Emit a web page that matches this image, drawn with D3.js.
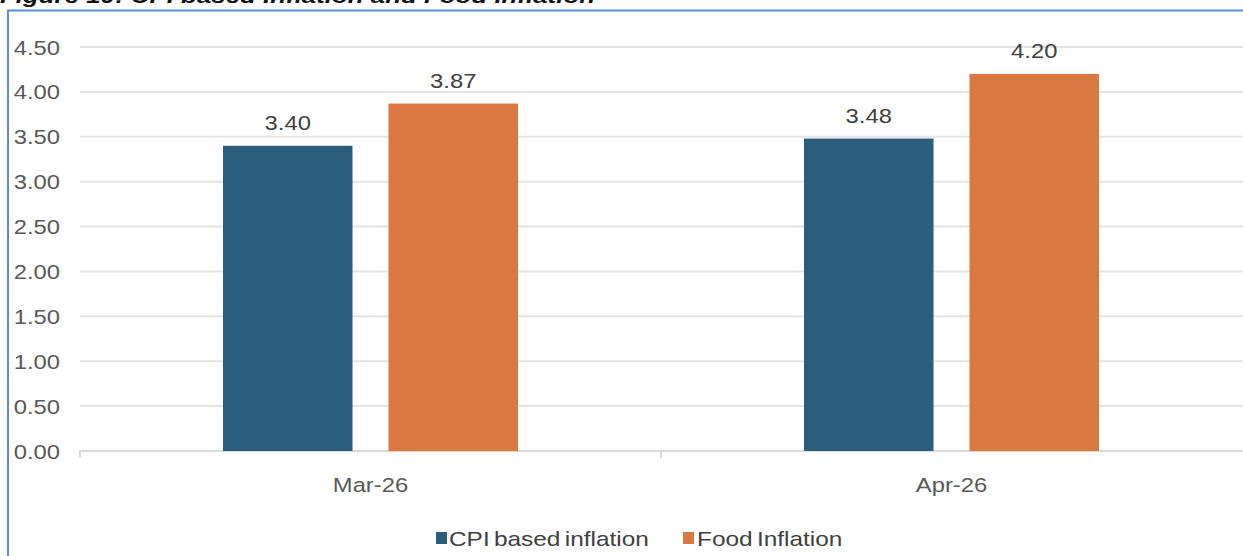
<!DOCTYPE html>
<html>
<head>
<meta charset="utf-8">
<script src="https://cdn.jsdelivr.net/npm/d3@7"></script>
<style>
  html, body { margin: 0; padding: 0; background: #fff; }
  svg { display: block; }
  text { font-family: Arial, "Liberation Sans", sans-serif; }
</style>
</head>
<body>
<svg id="chart" width="1243" height="556"></svg>
<script>
// Monthly inflation readings (per cent)
const categories = ["Mar-26", "Apr-26"];
const seriesNames = ["CPI based inflation", "Food Inflation"];
const cpiValues = [3.40, 3.48];
const foodValues = [3.87, 4.20];
const yTicks = [0, 0.5, 1, 1.5, 2, 2.5, 3, 3.5, 4, 4.5];
const seriesColors = ["#2b5d7d", "#db7740"];
const titleText = "Figure 10: CPI based Inflation and Food Inflation";

const rows = categories.map((c, i) => ({
  category: c,
  values: [
    { series: seriesNames[0], value: cpiValues[i] },
    { series: seriesNames[1], value: foodValues[i] }
  ]
}));

const svg = d3.select("#chart");
const W = 1243, H = 556;
const sx = 1.22;           // the typeface is drawn slightly widened
const fs = 19.5;

const x0 = d3.scaleBand().domain(categories).range([80, 1242]).padding(0);
const x1 = d3.scaleBand().domain(seriesNames).range([0, x0.bandwidth()])
  .paddingInner(0.2175).paddingOuter(0.864);
const y = d3.scaleLinear().domain([0, 4.5]).range([451, 47]);
const color = d3.scaleOrdinal().domain(seriesNames).range(seriesColors);

// Caption (sits above the framed panel)
svg.append("text")
  .attr("x", 0).attr("y", 3)
  .attr("textLength", 595).attr("lengthAdjust", "spacingAndGlyphs")
  .style("font-weight", "bold").style("font-style", "italic")
  .style("font-size", "20px").attr("fill", "#111")
  .text(titleText);

// Panel frame
svg.append("path")
  .attr("d", `M8,${H + 5} V10.5 H${W + 5}`)
  .attr("fill", "none").attr("stroke", "#5b8bd1").attr("stroke-width", 2);

// Horizontal gridlines
svg.append("g").selectAll("line")
  .data(yTicks.filter(d => d > 0))
  .join("line")
  .attr("x1", 80).attr("x2", W)
  .attr("y1", d => y(d)).attr("y2", d => y(d))
  .attr("stroke", "#e4e4e4").attr("stroke-width", 2);

// Y axis labels
const yAxis = d3.axisLeft(y).tickValues(yTicks).tickFormat(d3.format(".2f")).tickSize(0);
const gy = svg.append("g").attr("transform", "translate(60,0)").call(yAxis);
gy.select(".domain").remove();
gy.selectAll(".tick text")
  .attr("x", 0).attr("dy", null)
  .attr("transform", `scale(${sx},1)`)
  .attr("y", 7)
  .style("font-size", fs + "px").attr("fill", "#595959")
  .attr("font-family", null);

// Category axis
const xAxis = d3.axisBottom(x0).tickSize(0);
const gx = svg.append("g").attr("transform", `translate(0,${y(0)})`).call(xAxis);
gx.select(".domain").attr("stroke", "#d9d9d9").attr("stroke-width", 2)
  .attr("d", `M80,7V0H${W}`);
gx.selectAll(".tick text")
  .attr("y", 0).attr("dy", null)
  .attr("transform", `translate(0,41) scale(${sx},1)`)
  .style("font-size", fs + "px").attr("fill", "#595959")
  .attr("font-family", null);
// separators between categories
svg.append("g").selectAll("line")
  .data(categories.slice(1))
  .join("line")
  .attr("x1", d => x0(d)).attr("x2", d => x0(d))
  .attr("y1", y(0)).attr("y2", y(0) + 7)
  .attr("stroke", "#d9d9d9").attr("stroke-width", 2);

// Bars and value labels
const groups = svg.append("g").selectAll("g")
  .data(rows).join("g")
  .attr("transform", d => `translate(${x0(d.category)},0)`);

groups.selectAll("rect")
  .data(d => d.values).join("rect")
  .attr("x", d => x1(d.series))
  .attr("width", x1.bandwidth())
  .attr("y", d => y(d.value))
  .attr("height", d => y(0) - y(d.value))
  .attr("fill", d => color(d.series));

groups.selectAll("text.val")
  .data(d => d.values).join("text")
  .attr("class", "val")
  .attr("text-anchor", "middle")
  .attr("transform", d => `translate(${x1(d.series) + x1.bandwidth() / 2},${y(d.value) - 16}) scale(${sx},1)`)
  .style("font-size", fs + "px").attr("fill", "#404040")
  .text(d => d.value.toFixed(2));

// Legend
const legendItems = [
  { name: seriesNames[0], sq: 436, tx: 449 },
  { name: seriesNames[1], sq: 683, tx: 697 }
];
const lg = svg.append("g").selectAll("g").data(legendItems).join("g");
lg.append("rect")
  .attr("x", d => d.sq).attr("y", 532).attr("width", 11).attr("height", 12)
  .attr("fill", d => color(d.name));
lg.append("text")
  .attr("transform", d => `translate(${d.tx},546) scale(${sx},1)`)
  .style("font-size", "20px").style("word-spacing", "-2px")
  .attr("fill", "#404040")
  .text(d => d.name);
</script>
</body>
</html>
